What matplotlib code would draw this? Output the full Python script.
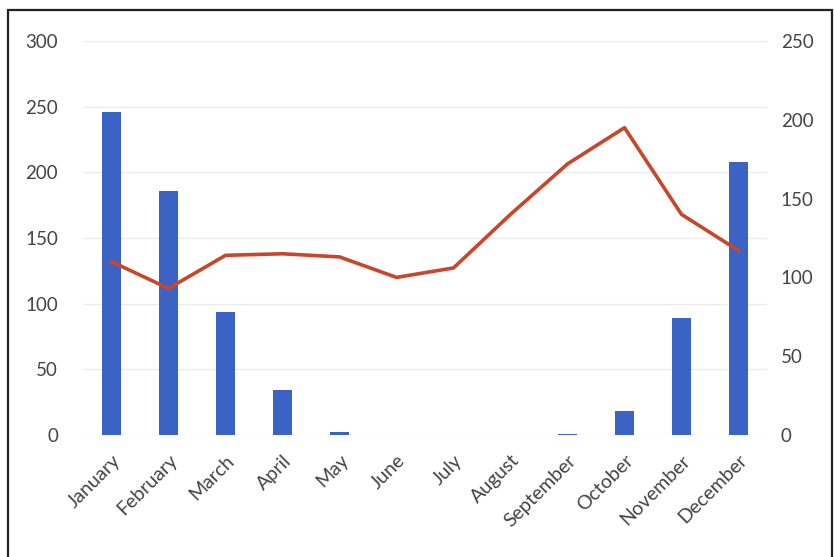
import matplotlib.pyplot as plt
from matplotlib.patches import Rectangle

months = ['January', 'February', 'March', 'April', 'May', 'June',
          'July', 'August', 'September', 'October', 'November', 'December']
bar_values = [246, 186, 94, 34, 2, 0, 0, 0, 1, 18, 89, 208]
line_values = [110, 93, 114, 115, 113, 100, 106, 140, 172, 195, 140, 117]

plt.rcParams['font.family'] = ['Lato', 'DejaVu Sans']

fig = plt.figure(figsize=(8.34, 5.57), dpi=100)
ax = fig.add_axes([83 / 834, 1 - 435 / 557, 684 / 834, 394 / 557])
ax2 = ax.twinx()

x = range(len(months))
ax.bar(x, bar_values, width=0.34, color='#3B63C6', zorder=2)
ax2.plot(x, line_values, color='#C8472A', linewidth=2.6, zorder=3)

ax.set_xlim(-0.5, len(months) - 0.5)
ax.set_ylim(0, 300)
ax.set_yticks(range(0, 301, 50))
ax2.set_ylim(0, 250)
ax2.set_yticks(range(0, 251, 50))

ax.grid(axis='y', color='#EBEBEB', linewidth=0.9, zorder=0)
ax.set_axisbelow(True)

ax.set_xticks(list(x))
ax.set_xticklabels(months, rotation=45, ha='right', rotation_mode='anchor',
                   fontsize=14, color='#333333')
for a in (ax, ax2):
    for s in a.spines.values():
        s.set_visible(False)
    a.tick_params(length=0, labelcolor='#444444')
ax.tick_params(axis='y', pad=18, labelsize=13.5)
ax2.tick_params(axis='y', pad=10, labelsize=13.5)
ax.tick_params(axis='x', pad=12)

# outer frame around the chart
fig.patches.append(Rectangle((8 / 834, -0.05), 824 / 834, 1.05 - 10 / 557,
                             transform=fig.transFigure, fill=False,
                             edgecolor='#222222', linewidth=1.6))

fig.savefig('out.png', dpi=100)
